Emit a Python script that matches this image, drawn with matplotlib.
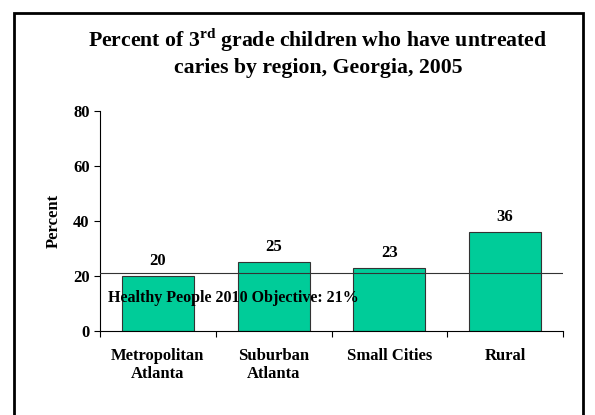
import matplotlib.pyplot as plt
from matplotlib.patches import Rectangle

regions = ['Metropolitan\nAtlanta', 'Suburban\nAtlanta', 'Small Cities', 'Rural']
percent = [20, 25, 23, 36]
objective = 21
yticks = [0, 20, 40, 60, 80]

plt.rcParams['font.family'] = 'Liberation Serif'
plt.rcParams['font.weight'] = 'bold'
plt.rcParams['mathtext.fontset'] = 'custom'
plt.rcParams['mathtext.rm'] = 'Liberation Serif:bold'
plt.rcParams['mathtext.bf'] = 'Liberation Serif:bold'

fig = plt.figure(figsize=(5.95, 4.15), dpi=100)
ax = fig.add_axes([100/595, 1 - 331/415, 463/595, 220/415])

x = range(len(regions))
ax.bar(x, percent, width=0.62, color='#00cc99', edgecolor='#333333', linewidth=0.8, zorder=2)
for i, v in zip(x, percent):
    ax.text(i, v + 2.5, str(v), ha='center', va='bottom', fontsize=12, fontweight='bold')

ax.axhline(objective, color='#333333', linewidth=0.8, zorder=3)
ax.text(-0.43, objective - 9, 'Healthy People 2010 Objective: 21%', ha='left', va='center',
        fontsize=11.5, fontweight='bold', zorder=4)

ax.set_xlim(-0.5, len(regions) - 0.5)
ax.set_ylim(0, 80)
ax.set_yticks(yticks)
ax.set_xticks([i - 0.5 for i in range(len(regions) + 1)], minor=False)
ax.set_xticklabels([])
ax.set_xticks(list(x), minor=True)
ax.set_xticklabels(regions, minor=True, fontsize=12, fontweight='bold')
ax.tick_params(axis='x', which='minor', length=0, pad=12)
ax.tick_params(axis='x', which='major', length=4, direction='out')
ax.tick_params(axis='y', length=4, direction='out', labelsize=12)
for lab in ax.get_yticklabels():
    lab.set_fontweight('bold')
ax.spines['top'].set_visible(False)
ax.spines['right'].set_visible(False)
ax.set_ylabel('Percent', fontsize=12, fontweight='bold', labelpad=8)

fig.text(318/595, 1 - 52/415, 'Percent of 3$^{\\mathrm{rd}}$ grade children who have untreated\ncaries by region, Georgia, 2005',
         ha='center', va='center', fontsize=15.7, fontweight='bold', linespacing=1.3)

fig.patches.append(Rectangle((14/595, -0.1), (583 - 14)/595, 1.1 - 13/415, transform=fig.transFigure,
                             fill=False, edgecolor='black', linewidth=2))

fig.savefig('out.png', dpi=100)
